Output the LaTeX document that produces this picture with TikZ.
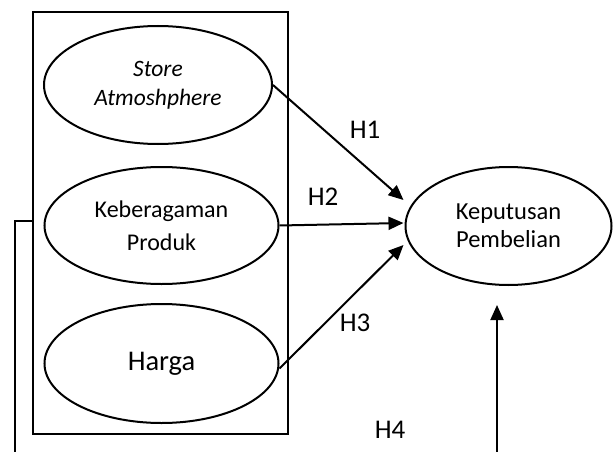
\documentclass[tikz,border=0pt]{standalone}
\usepackage{fontspec}
\setmainfont{Carlito}
\usetikzlibrary{shapes.geometric,arrows.meta}
\tikzset{
  construct/.style={ellipse, draw, line width=2pt, inner sep=0pt, align=center, font=\fontsize{24}{29}\selectfont},
  link/.style={line width=2pt, -{Triangle[length=15pt,width=13pt]}},
  hlabel/.style={font=\fontsize{27}{30}\selectfont, inner sep=0pt}
}
\begin{document}
\begin{tikzpicture}[x=1pt,y=-1pt]
\useasboundingbox (0,0) rectangle (613,452);
% group box around the independent variables
\node[draw, line width=2pt, minimum width=255pt, minimum height=422pt, inner sep=0pt] (box) at (160.5,223) {};
\node[construct, minimum width=228pt, minimum height=118pt, font=\fontsize{23.5}{29}\selectfont] (sa) at (158,85) {\itshape Store\\\itshape Atmoshphere};
\node[construct, minimum width=234pt, minimum height=117pt, font=\fontsize{24}{33}\selectfont] (kp) at (161.5,225.5) {Keberagaman\\Produk};
\node[construct, minimum width=234pt, minimum height=119pt, font=\fontsize{28.5}{32}\selectfont] (hg) at (161.5,363.5) {Harga};
\node[construct, minimum width=206pt, minimum height=118pt, font=\fontsize{24.5}{28}\selectfont] (kb) at (508.5,226) {Keputusan\\Pembelian};
% hypothesis paths
\draw[link] (sa.east) -- ([xshift=-1pt,yshift=26pt]kb.west);
\draw[link] (kp.east) -- ([xshift=-1pt,yshift=3pt]kb.west);
\draw[link] ([yshift=-5pt]hg.east) -- ([xshift=-1pt,yshift=-19pt]kb.west);
\coordinate (h4foot) at (497,452);
\draw[link] (h4foot) -- (497,305);
% bracket from the group box
\coordinate (bk) at (15,221);
\coordinate (bkfoot) at (15,452);
\draw[line width=2pt] (box.west |- bk) -- (bk) -- (bkfoot);
% labels
\node[hlabel] (h1) at (365,130) {H1};
\node[hlabel] (h2) at (323,197) {H2};
\node[hlabel] (h3) at (355,323) {H3};
\node[hlabel] (h4) at (390,430) {H4};
\end{tikzpicture}
\end{document}
